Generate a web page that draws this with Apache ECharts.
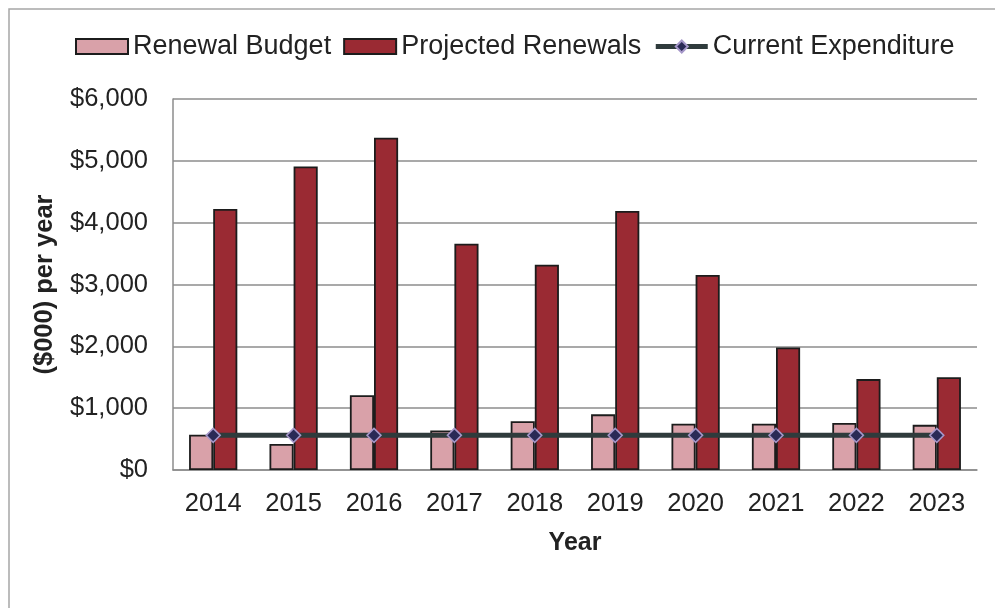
<!DOCTYPE html>
<html>
<head>
<meta charset="utf-8">
<script src="https://cdn.jsdelivr.net/npm/echarts@6/dist/echarts.min.js"></script>
<style>
  html, body { margin: 0; padding: 0; background: #ffffff; }
  #chart { width: 995px; height: 608px; }
</style>
</head>
<body>
<div id="chart"></div>
<script>
// Renewal funding by year, in $000
const years = ['2014', '2015', '2016', '2017', '2018', '2019', '2020', '2021', '2022', '2023'];
const renewalBudget = [570, 420, 1210, 640, 790, 900, 750, 750, 760, 730];
const projectedRenewals = [4220, 4910, 5375, 3660, 3320, 4190, 3155, 1980, 1470, 1500];
const currentExpenditure = [560, 560, 560, 560, 560, 560, 560, 560, 560, 560];

const FONT = '"Liberation Sans", Arial, sans-serif';
const TEXT = '#222222';
const LINE_COLOR = '#2f3b3c';

const chart = echarts.init(document.getElementById('chart'), null, { renderer: 'canvas' });

chart.setOption({
  animation: false,
  backgroundColor: '#ffffff',
  textStyle: { fontFamily: FONT, color: TEXT },
  graphic: [{
    type: 'rect',
    shape: { x: 9, y: 9, width: 1100, height: 700 },
    style: { fill: 'none', stroke: '#a6a6a6', lineWidth: 1.5 },
    silent: true
  }],
  legend: {
    top: 28,
    left: 70,
    itemWidth: 52,
    itemHeight: 15,
    itemGap: 12,
    textStyle: { fontFamily: FONT, fontSize: 27, color: TEXT },
    data: [
      { name: 'Renewal Budget', icon: 'rect' },
      { name: 'Projected Renewals', icon: 'rect' },
      { name: 'Current Expenditure', lineStyle: { width: 5, color: LINE_COLOR } }
    ]
  },
  grid: { left: 173, top: 99, right: 18, bottom: 138, containLabel: false },
  xAxis: {
    type: 'category',
    data: years,
    name: 'Year',
    nameLocation: 'middle',
    nameGap: 61,
    nameTextStyle: { fontFamily: FONT, fontSize: 25, fontWeight: 'bold', color: TEXT },
    axisLine: { show: true, lineStyle: { color: '#8c8c8c', width: 1.5 } },
    axisTick: { show: false },
    axisLabel: { fontFamily: FONT, fontSize: 25.5, color: TEXT, margin: 21 }
  },
  yAxis: {
    type: 'value',
    min: 0,
    max: 6000,
    interval: 1000,
    name: '($000) per year',
    nameLocation: 'middle',
    nameGap: 115,
    nameTextStyle: { fontFamily: FONT, fontSize: 25.5, fontWeight: 'bold', color: TEXT },
    axisLine: { show: true, lineStyle: { color: '#8c8c8c', width: 1.5 } },
    axisTick: { show: false },
    splitLine: { lineStyle: { color: '#8c8c8c', width: 1.5 } },
    axisLabel: {
      fontFamily: FONT, fontSize: 25.5, color: TEXT, margin: 25,
      formatter: v => '$' + v.toLocaleString('en-US')
    }
  },
  series: [
    {
      name: 'Renewal Budget',
      type: 'bar',
      data: renewalBudget,
      barGap: '0%',
      barCategoryGap: '40%',
      itemStyle: { color: '#d9a1a9', borderColor: '#1c1c1c', borderWidth: 1.8 },
      z: 2
    },
    {
      name: 'Projected Renewals',
      type: 'bar',
      data: projectedRenewals,
      itemStyle: { color: '#9a2a33', borderColor: '#1c1c1c', borderWidth: 1.8 },
      z: 2
    },
    {
      name: 'Current Expenditure',
      type: 'line',
      data: currentExpenditure,
      symbol: 'diamond',
      symbolSize: 14,
      lineStyle: { color: LINE_COLOR, width: 5 },
      itemStyle: { color: '#2a2a56', borderColor: '#a597c9', borderWidth: 1.5 },
      z: 5
    }
  ]
});
</script>
</body>
</html>
